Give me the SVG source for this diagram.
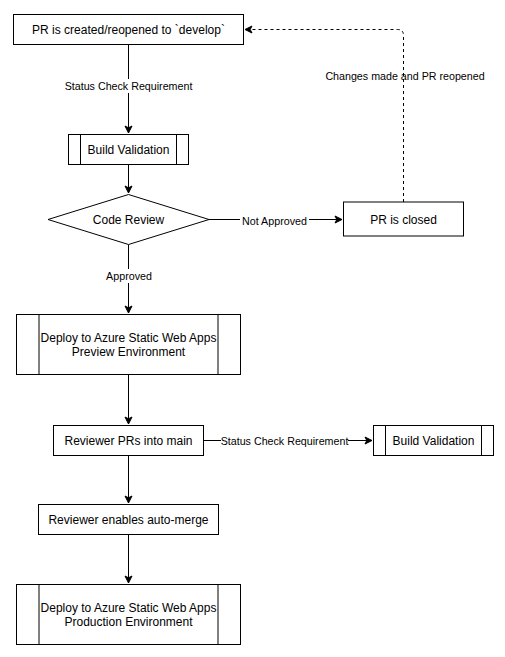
<svg xmlns="http://www.w3.org/2000/svg" width="505" height="657" viewBox="0 0 505 657">
  <style>
    .box { fill: #ffffff; stroke: #000000; stroke-width: 1; }
    .bar { fill: none; stroke: #000000; stroke-width: 1; }
    .edge { fill: none; stroke: #000000; stroke-width: 1; }
    .dash { stroke-dasharray: 3 3; }
    .txt { font-family: "Liberation Sans", Arial, sans-serif; font-size: 12px; fill: #000000; text-anchor: middle; dominant-baseline: central; }
    .lbl { font-family: "Liberation Sans", Arial, sans-serif; font-size: 10.7px; fill: #000000; text-anchor: middle; dominant-baseline: central; }
    .lblbg { fill: #ffffff; stroke: none; }
  </style>
  <defs>
    <marker id="arrow" markerUnits="userSpaceOnUse" markerWidth="10" markerHeight="10" viewBox="0 0 10 10" refX="8" refY="5" orient="auto">
      <path d="M1,1.5 L8,5 L1,8.5 L2.8,5 Z" fill="#000000" stroke="#000000" stroke-width="1"/>
    </marker>
  </defs>
  <rect width="505" height="657" fill="#ffffff"/>

  <!-- connectors -->
  <g id="connectors">
    <path class="edge" d="M128.5,44.5 V133" marker-end="url(#arrow)"/>
    <path class="edge" d="M128.5,164.5 V193" marker-end="url(#arrow)"/>
    <path class="edge" d="M209,219.5 H342" marker-end="url(#arrow)"/>
    <path class="edge dash" d="M403.5,202 V35.5 Q403.5,29.5 397.5,29.5 H245" marker-end="url(#arrow)"/>
    <path class="edge" d="M128.5,244.5 V313" marker-end="url(#arrow)"/>
    <path class="edge" d="M128.5,374.5 V424" marker-end="url(#arrow)"/>
    <path class="edge" d="M203.5,440.5 H372" marker-end="url(#arrow)"/>
    <path class="edge" d="M128.5,455.5 V503" marker-end="url(#arrow)"/>
    <path class="edge" d="M128.5,534.5 V583" marker-end="url(#arrow)"/>

    <rect class="lblbg" x="65" y="79" width="127" height="14"/>
    <text class="lbl" x="128.5" y="86">Status Check Requirement</text>
    <rect class="lblbg" x="240" y="213" width="69" height="14"/>
    <text class="lbl" x="274.5" y="220.5">Not Approved</text>
    <text class="lbl" x="405" y="76">Changes made and PR reopened</text>
    <rect class="lblbg" x="104" y="269" width="50" height="14"/>
    <text class="lbl" x="129" y="276">Approved</text>
    <rect class="lblbg" x="221" y="434" width="127" height="14"/>
    <text class="lbl" x="284.5" y="441">Status Check Requirement</text>
  </g>

  <g id="pr-created">
    <rect class="box" x="13.5" y="14.5" width="230" height="30"/>
    <text class="txt" x="128.5" y="30">PR is created/reopened to `develop`</text>
  </g>

  <g id="build-validation-1">
    <rect class="box" x="68.5" y="134.5" width="120" height="30"/>
    <path class="bar" d="M80.5,134.5 V164.5 M176.5,134.5 V164.5"/>
    <text class="txt" x="128.5" y="150">Build Validation</text>
  </g>

  <g id="code-review">
    <polygon class="box" points="128.5,194.5 209,219.5 128.5,244.5 48,219.5"/>
    <text class="txt" x="128.5" y="219.5">Code Review</text>
  </g>

  <g id="pr-closed">
    <rect class="box" x="343.5" y="202" width="120" height="34"/>
    <text class="txt" x="403.5" y="219.5">PR is closed</text>
  </g>

  <g id="deploy-preview">
    <rect class="box" x="16.5" y="314.5" width="224" height="60"/>
    <path class="bar" d="M39,314.5 V374.5 M218,314.5 V374.5"/>
    <text class="txt" x="128.5" y="338">Deploy to Azure Static Web Apps</text>
    <text class="txt" x="128.5" y="352">Preview Environment</text>
  </g>

  <g id="reviewer-pr">
    <rect class="box" x="53.5" y="425.5" width="150" height="30"/>
    <text class="txt" x="128.5" y="440.5">Reviewer PRs into main</text>
  </g>

  <g id="build-validation-2">
    <rect class="box" x="373.5" y="425.5" width="120" height="30"/>
    <path class="bar" d="M385.5,425.5 V455.5 M481.5,425.5 V455.5"/>
    <text class="txt" x="433.5" y="440.5">Build Validation</text>
  </g>

  <g id="auto-merge">
    <rect class="box" x="38.5" y="504.5" width="180" height="30"/>
    <text class="txt" x="128.5" y="519.5">Reviewer enables auto-merge</text>
  </g>

  <g id="deploy-production">
    <rect class="box" x="16.5" y="584.5" width="224" height="60"/>
    <path class="bar" d="M39,584.5 V644.5 M218,584.5 V644.5"/>
    <text class="txt" x="128.5" y="608">Deploy to Azure Static Web Apps</text>
    <text class="txt" x="128.5" y="622">Production Environment</text>
  </g>
</svg>
